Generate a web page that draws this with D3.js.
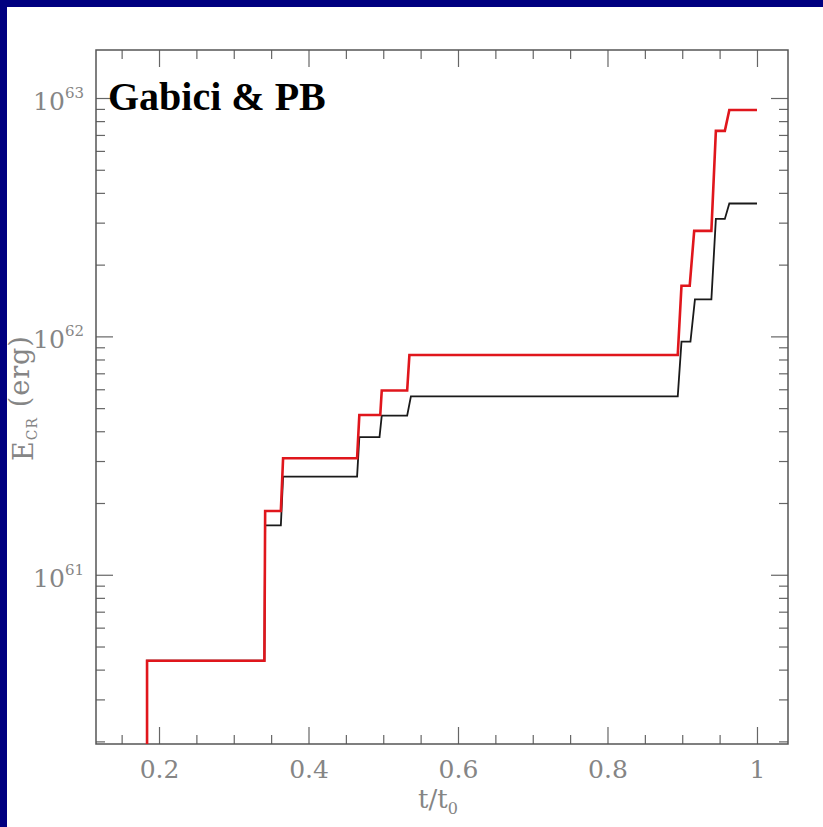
<!DOCTYPE html>
<html>
<head>
<meta charset="utf-8">
<script src="https://d3js.org/d3.v7.min.js"></script>
<style>
  body { margin: 0; background: #000080; }
  svg { display: block; }
</style>
</head>
<body>
<script>
// step data: t/t0 and E_CR (erg)
var redT = [0.184, 0.184, 0.341, 0.342, 0.363, 0.366, 0.465, 0.468, 0.496, 0.498, 0.532, 0.535, 0.894, 0.899, 0.910, 0.916, 0.939, 0.945, 0.957, 0.963, 1.0];
var redE = [1e60, 4.36e60, 4.36e60, 1.85e61, 1.85e61, 3.08e61, 3.08e61, 4.68e61, 4.68e61, 5.93e61, 5.93e61, 8.36e61, 8.36e61, 1.63e62, 1.63e62, 2.77e62, 2.77e62, 7.28e62, 7.28e62, 8.91e62, 8.91e62];
var blackT = [0.184, 0.184, 0.341, 0.342, 0.363, 0.366, 0.465, 0.468, 0.495, 0.498, 0.532, 0.537, 0.894, 0.899, 0.911, 0.917, 0.939, 0.945, 0.957, 0.963, 1.0];
var blackE = [1e60, 4.36e60, 4.36e60, 1.61e61, 1.61e61, 2.58e61, 2.58e61, 3.78e61, 3.78e61, 4.65e61, 4.65e61, 5.60e61, 5.60e61, 9.51e61, 9.51e61, 1.43e62, 1.43e62, 3.11e62, 3.11e62, 3.61e62, 3.61e62];

var xMajor = [0.2, 0.4, 0.6, 0.8, 1.0];
var xMinor = [0.15, 0.25, 0.3, 0.35, 0.45, 0.5, 0.55, 0.65, 0.7, 0.75, 0.85, 0.9, 0.95];
var yMajor = [1e61, 1e62, 1e63];
var yExp = ["61", "62", "63"];

var cfg = {
	width: 823,
	height: 827,
	left: 96,
	right: 788,
	top: 50,
	bottom: 744
};

var svg = d3.select('body')
	.append('svg')
	.attr('width', cfg.width)
	.attr('height', cfg.height);

// white panel inside the blue border
svg.append('rect')
	.attr('x', 7)
	.attr('y', 7)
	.attr('width', cfg.width - 7)
	.attr('height', cfg.height - 7)
	.attr('fill', '#fff');

var x = d3.scaleLinear()
	.domain([0.1157, 1.0415])
	.range([cfg.left, cfg.right]);
var y = d3.scaleLog()
	.domain([1.95e60, 1.59e63])
	.range([cfg.bottom, cfg.top]);

// minor y ticks: 2..9 in each decade inside the domain
var yMinor = [];
[60, 61, 62].forEach(function (p) {
	for (var k = 2; k <= 9; k++) {
		var v = k * Math.pow(10, p);
		if (v >= y.domain()[0] && v <= y.domain()[1]) yMinor.push(v);
	}
});

var tickColor = '#666';
var labelColor = '#858585';
var labelFont = 'DejaVu Serif, serif';

function styleAxis(g) {
	g.select('.domain').remove();
	g.selectAll('.tick line').attr('stroke', tickColor).attr('stroke-width', 1.2);
}

// bottom
svg.append('g')
	.attr('transform', 'translate(0,' + cfg.bottom + ')')
	.call(d3.axisBottom(x).tickValues(xMinor).tickSize(-9).tickFormat(''))
	.call(styleAxis);
var xAx = svg.append('g')
	.attr('transform', 'translate(0,' + cfg.bottom + ')')
	.call(d3.axisBottom(x).tickValues(xMajor).tickSize(-17).tickPadding(16).tickFormat(d3.format('~g')))
	.call(styleAxis);
xAx.selectAll('text')
	.attr('font-family', labelFont)
	.attr('font-size', 25)
	.attr('fill', labelColor);

// top
svg.append('g')
	.attr('transform', 'translate(0,' + cfg.top + ')')
	.call(d3.axisTop(x).tickValues(xMinor).tickSize(-9).tickFormat(''))
	.call(styleAxis);
svg.append('g')
	.attr('transform', 'translate(0,' + cfg.top + ')')
	.call(d3.axisTop(x).tickValues(xMajor).tickSize(-17).tickFormat(''))
	.call(styleAxis);

// left
svg.append('g')
	.attr('transform', 'translate(' + cfg.left + ',0)')
	.call(d3.axisLeft(y).tickValues(yMinor).tickSize(-9).tickFormat(''))
	.call(styleAxis);
var yAx = svg.append('g')
	.attr('transform', 'translate(' + cfg.left + ',0)')
	.call(d3.axisLeft(y).tickValues(yMajor).tickSize(-17).tickPadding(12).tickFormat(''))
	.call(styleAxis);
yAx.selectAll('.tick text')
	.attr('font-family', labelFont)
	.attr('font-size', 25)
	.attr('fill', labelColor)
	.attr('dy', '0.45em')
	.each(function (d, i) {
		var t = d3.select(this);
		t.text('10');
		t.append('tspan')
			.attr('font-size', 15)
			.attr('dy', '-0.8em')
			.text(yExp[i]);
	});

// right
svg.append('g')
	.attr('transform', 'translate(' + cfg.right + ',0)')
	.call(d3.axisRight(y).tickValues(yMinor).tickSize(-9).tickFormat(''))
	.call(styleAxis);
svg.append('g')
	.attr('transform', 'translate(' + cfg.right + ',0)')
	.call(d3.axisRight(y).tickValues(yMajor).tickSize(-17).tickFormat(''))
	.call(styleAxis);

// frame
svg.append('rect')
	.attr('x', cfg.left)
	.attr('y', cfg.top)
	.attr('width', cfg.right - cfg.left)
	.attr('height', cfg.bottom - cfg.top)
	.attr('fill', 'none')
	.attr('stroke', '#555')
	.attr('stroke-width', 1.5);

// curves
svg.append('clipPath')
	.attr('id', 'plotClip')
	.append('rect')
	.attr('x', cfg.left)
	.attr('y', cfg.top)
	.attr('width', cfg.right - cfg.left)
	.attr('height', cfg.bottom - cfg.top);

var line = d3.line()
	.x(function (d) { return x(d[0]); })
	.y(function (d) { return y(d[1]); });

svg.append('path')
	.datum(d3.zip(blackT, blackE))
	.attr('clip-path', 'url(#plotClip)')
	.attr('d', line)
	.attr('fill', 'none')
	.attr('stroke', '#1a1a1a')
	.attr('stroke-width', 1.8);

svg.append('path')
	.datum(d3.zip(redT, redE))
	.attr('clip-path', 'url(#plotClip)')
	.attr('d', line)
	.attr('fill', 'none')
	.attr('stroke', '#e0161c')
	.attr('stroke-width', 2.6);

// axis titles
svg.append('text')
	.attr('x', (cfg.left + cfg.right) / 2 - 4)
	.attr('y', 808)
	.attr('text-anchor', 'middle')
	.attr('font-family', labelFont)
	.attr('font-size', 26)
	.attr('fill', labelColor)
	.text('t/t')
	.append('tspan')
	.attr('font-size', 16)
	.attr('dy', '0.35em')
	.text('0');

var yt = svg.append('text')
	.attr('transform', 'translate(33,398) rotate(-90)')
	.attr('text-anchor', 'middle')
	.attr('font-family', labelFont)
	.attr('font-size', 27)
	.attr('letter-spacing', 1)
	.attr('fill', labelColor);
yt.append('tspan').text('E');
yt.append('tspan').attr('font-size', 14).attr('dy', '0.3em').text('CR');
yt.append('tspan').attr('dy', '-0.3em').text(' (erg)');

// annotation
svg.append('text')
	.attr('x', 108)
	.attr('y', 110)
	.attr('font-family', 'Liberation Serif, Times New Roman, serif')
	.attr('font-weight', 'bold')
	.attr('font-size', 40)
	.attr('fill', '#000')
	.text('Gabici & PB');
</script>
</body>
</html>
